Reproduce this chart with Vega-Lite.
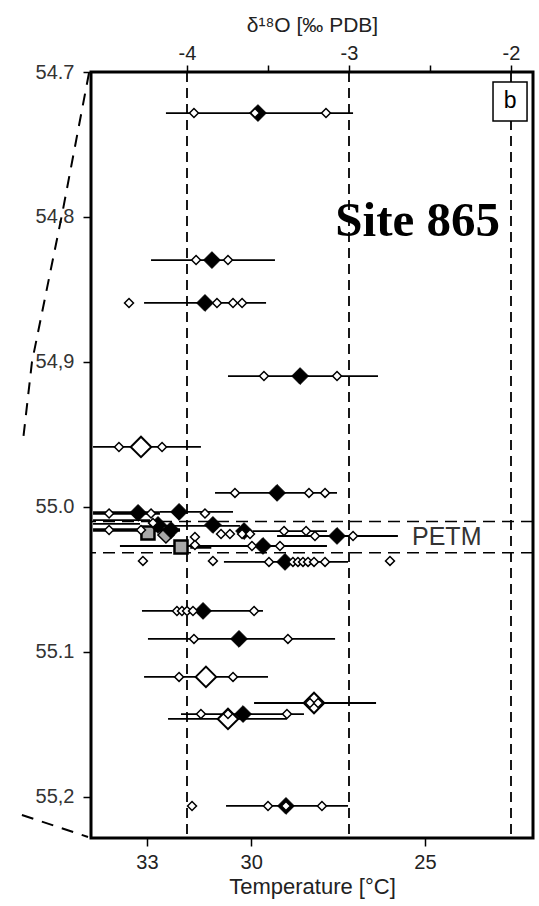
{
  "$schema": "https://vega.github.io/schema/vega-lite/v6.json",
  "width": 442,
  "height": 766,
  "autosize": {"type": "none"},
  "padding": {"left": 91, "top": 72, "right": 6, "bottom": 68},
  "background": "white",
  "config": {
    "view": {"stroke": "black", "strokeWidth": 3},
    "font": "Liberation Sans"
  },
  "datasets": {
    "bars": [
      {"depth": 54.7283, "lo": -4.130, "hi": -2.975},
      {"depth": 54.8297, "lo": -4.222, "hi": -3.457},
      {"depth": 54.8593, "lo": -4.265, "hi": -3.512},
      {"depth": 54.9097, "lo": -3.747, "hi": -2.821},
      {"depth": 54.9586, "lo": -4.58, "hi": -3.914},
      {"depth": 54.9903, "lo": -3.827, "hi": -3.074},
      {"depth": 55.0034, "lo": -4.167, "hi": -3.716},
      {"depth": 55.0090, "lo": -4.58, "hi": -4.228},
      {"depth": 55.0117, "lo": -4.58, "hi": -4.29},
      {"depth": 55.0131, "lo": -4.228, "hi": -3.673},
      {"depth": 55.0166, "lo": -3.593, "hi": -3.136},
      {"depth": 55.0200, "lo": -3.444, "hi": -2.698},
      {"depth": 55.0269, "lo": -4.414, "hi": -3.136},
      {"depth": 55.0379, "lo": -3.772, "hi": -3.006},
      {"depth": 55.0717, "lo": -4.278, "hi": -3.531},
      {"depth": 55.0910, "lo": -4.241, "hi": -3.086},
      {"depth": 55.1172, "lo": -4.265, "hi": -3.5},
      {"depth": 55.1352, "lo": -3.586, "hi": -2.833},
      {"depth": 55.1428, "lo": -4.037, "hi": -3.278},
      {"depth": 55.1462, "lo": -4.117, "hi": -3.383},
      {"depth": 55.2062, "lo": -3.759, "hi": -3.006}
    ],
    "thickbars": [
      {"depth": 55.0041, "lo": -4.58, "hi": -4.167},
      {"depth": 55.0159, "lo": -4.58, "hi": -4.043},
      {"depth": 55.0276, "lo": -3.98, "hi": -3.85}
    ],
    "pts": [
      {"depth": 54.7283, "d18O": -3.562, "kind": "m"},
      {"depth": 54.7283, "d18O": -3.957, "kind": "o"},
      {"depth": 54.7283, "d18O": -3.142, "kind": "o"},
      {"depth": 54.7283, "d18O": -3.580, "kind": "o"},
      {"depth": 54.8297, "d18O": -3.846, "kind": "m"},
      {"depth": 54.8297, "d18O": -3.944, "kind": "o"},
      {"depth": 54.8297, "d18O": -3.747, "kind": "o"},
      {"depth": 54.8593, "d18O": -3.889, "kind": "m"},
      {"depth": 54.8593, "d18O": -4.358, "kind": "o"},
      {"depth": 54.8593, "d18O": -3.815, "kind": "o"},
      {"depth": 54.8593, "d18O": -3.716, "kind": "o"},
      {"depth": 54.8593, "d18O": -3.660, "kind": "o"},
      {"depth": 54.9097, "d18O": -3.302, "kind": "m"},
      {"depth": 54.9097, "d18O": -3.525, "kind": "o"},
      {"depth": 54.9097, "d18O": -3.074, "kind": "o"},
      {"depth": 54.9586, "d18O": -4.284, "kind": "b"},
      {"depth": 54.9586, "d18O": -4.420, "kind": "o"},
      {"depth": 54.9586, "d18O": -4.154, "kind": "o"},
      {"depth": 54.9903, "d18O": -3.444, "kind": "m"},
      {"depth": 54.9903, "d18O": -3.704, "kind": "o"},
      {"depth": 54.9903, "d18O": -3.247, "kind": "o"},
      {"depth": 54.9903, "d18O": -3.148, "kind": "o"},
      {"depth": 55.0041, "d18O": -4.302, "kind": "m"},
      {"depth": 55.0045, "d18O": -4.481, "kind": "o"},
      {"depth": 55.0045, "d18O": -4.222, "kind": "o"},
      {"depth": 55.0034, "d18O": -4.049, "kind": "m"},
      {"depth": 55.0045, "d18O": -3.889, "kind": "o"},
      {"depth": 55.0110, "d18O": -4.210, "kind": "o"},
      {"depth": 55.0159, "d18O": -4.099, "kind": "m"},
      {"depth": 55.0159, "d18O": -4.481, "kind": "o"},
      {"depth": 55.0159, "d18O": -4.284, "kind": "o"},
      {"depth": 55.0179, "d18O": -4.241, "kind": "gs"},
      {"depth": 55.0124, "d18O": -3.840, "kind": "m"},
      {"depth": 55.0124, "d18O": -4.179, "kind": "m"},
      {"depth": 55.0186, "d18O": -3.790, "kind": "o"},
      {"depth": 55.0186, "d18O": -3.735, "kind": "o"},
      {"depth": 55.0186, "d18O": -3.660, "kind": "o"},
      {"depth": 55.0186, "d18O": -3.611, "kind": "o"},
      {"depth": 55.0166, "d18O": -3.648, "kind": "m"},
      {"depth": 55.0166, "d18O": -3.401, "kind": "o"},
      {"depth": 55.0166, "d18O": -3.265, "kind": "o"},
      {"depth": 55.0200, "d18O": -3.074, "kind": "m"},
      {"depth": 55.0200, "d18O": -3.210, "kind": "o"},
      {"depth": 55.0200, "d18O": -2.975, "kind": "o"},
      {"depth": 55.0269, "d18O": -3.531, "kind": "m"},
      {"depth": 55.0269, "d18O": -3.599, "kind": "o"},
      {"depth": 55.0269, "d18O": -3.426, "kind": "o"},
      {"depth": 55.0276, "d18O": -4.037, "kind": "gs"},
      {"depth": 55.0207, "d18O": -3.951, "kind": "o"},
      {"depth": 55.0262, "d18O": -3.951, "kind": "o"},
      {"depth": 55.0193, "d18O": -4.130, "kind": "gd"},
      {"depth": 55.0379, "d18O": -3.395, "kind": "m"},
      {"depth": 55.0379, "d18O": -3.494, "kind": "o"},
      {"depth": 55.0379, "d18O": -3.346, "kind": "o"},
      {"depth": 55.0379, "d18O": -3.315, "kind": "o"},
      {"depth": 55.0379, "d18O": -3.284, "kind": "o"},
      {"depth": 55.0379, "d18O": -3.253, "kind": "o"},
      {"depth": 55.0379, "d18O": -3.216, "kind": "o"},
      {"depth": 55.0379, "d18O": -3.148, "kind": "o"},
      {"depth": 55.0372, "d18O": -4.272, "kind": "o"},
      {"depth": 55.0372, "d18O": -3.840, "kind": "o"},
      {"depth": 55.0372, "d18O": -2.747, "kind": "o"},
      {"depth": 55.0717, "d18O": -3.901, "kind": "m"},
      {"depth": 55.0717, "d18O": -4.062, "kind": "o"},
      {"depth": 55.0717, "d18O": -4.031, "kind": "o"},
      {"depth": 55.0717, "d18O": -4.000, "kind": "o"},
      {"depth": 55.0717, "d18O": -3.963, "kind": "o"},
      {"depth": 55.0717, "d18O": -3.586, "kind": "o"},
      {"depth": 55.0910, "d18O": -3.679, "kind": "m"},
      {"depth": 55.0910, "d18O": -3.957, "kind": "o"},
      {"depth": 55.0910, "d18O": -3.377, "kind": "o"},
      {"depth": 55.1172, "d18O": -3.883, "kind": "b"},
      {"depth": 55.1172, "d18O": -4.049, "kind": "o"},
      {"depth": 55.1172, "d18O": -3.716, "kind": "o"},
      {"depth": 55.1352, "d18O": -3.216, "kind": "b"},
      {"depth": 55.1352, "d18O": -3.241, "kind": "o"},
      {"depth": 55.1352, "d18O": -3.191, "kind": "o"},
      {"depth": 55.1428, "d18O": -3.654, "kind": "m"},
      {"depth": 55.1428, "d18O": -3.914, "kind": "o"},
      {"depth": 55.1428, "d18O": -3.747, "kind": "o"},
      {"depth": 55.1428, "d18O": -3.383, "kind": "o"},
      {"depth": 55.1462, "d18O": -3.747, "kind": "b"},
      {"depth": 55.2062, "d18O": -3.389, "kind": "m"},
      {"depth": 55.2062, "d18O": -3.969, "kind": "o"},
      {"depth": 55.2062, "d18O": -3.500, "kind": "o"},
      {"depth": 55.2062, "d18O": -3.167, "kind": "o"},
      {"depth": 55.2062, "d18O": -3.389, "kind": "o"}
    ],
    "conn": [
      {"g": "top", "d18O": -4.605, "depth": 54.7007},
      {"g": "top", "d18O": -4.772, "depth": 54.7986},
      {"g": "top", "d18O": -4.957, "depth": 54.9000},
      {"g": "top", "d18O": -5.012, "depth": 54.9538},
      {"g": "bot", "d18O": -5.019, "depth": 55.2124},
      {"g": "bot", "d18O": -4.611, "depth": 55.2276}
    ],
    "vref": [{"d18O": -4}, {"d18O": -3}, {"d18O": -2}],
    "petm": [{"depth": 55.0101}, {"depth": 55.0315}]
  },
  "layer": [
    {
      "layer": [
        {
          "data": {"name": "vref"},
          "mark": {"type": "rule", "color": "black", "strokeWidth": 1.8, "strokeDash": [10, 6]},
          "encoding": {
            "x": {
              "field": "d18O", "type": "quantitative",
              "scale": {"domain": [-4.5926, -1.8642], "nice": false, "zero": false},
              "axis": {
                "orient": "top",
                "values": [-4, -3.5, -3, -2.5, -2],
                "labelExpr": "datum.value % 1 == 0 ? '-' + abs(datum.value) : ''",
                "title": "δ¹⁸O [‰ PDB]",
                "domain": false, "grid": false,
                "tickColor": "black", "tickWidth": 1.5, "tickSize": 7,
                "labelFontSize": 20, "labelColor": "#222", "labelPadding": 2,
                "labelFont": "Liberation Sans",
                "titleFont": "Liberation Sans", "titleFontSize": 21,
                "titleFontWeight": "normal", "titleColor": "#222", "titlePadding": 8
              }
            }
          }
        },
        {
          "data": {"name": "conn"},
          "mark": {"type": "line", "color": "black", "strokeWidth": 2, "strokeDash": [12, 9], "clip": false},
          "encoding": {
            "x": {"field": "d18O", "type": "quantitative"},
            "y": {
              "field": "depth", "type": "quantitative",
              "scale": {"domain": [54.7, 55.2283], "reverse": true, "nice": false, "zero": false},
              "axis": {
                "values": [54.7, 54.8, 54.9, 55.0, 55.1, 55.2],
                "labelExpr": "datum.value == 54.9 ? '54,9' : datum.value == 55.2 ? '55,2' : format(datum.value, '.1f')",
                "title": null, "domain": false, "grid": false,
                "tickSize": 8, "tickWidth": 1.5, "tickColor": "black",
                "labelFontSize": 20, "labelColor": "#333", "labelPadding": 9,
                "labelFont": "Liberation Sans"
              }
            },
            "detail": {"field": "g"},
            "order": {"field": "depth"}
          }
        },
        {
          "data": {"name": "petm"},
          "mark": {"type": "rule", "color": "black", "strokeWidth": 1.5, "strokeDash": [12, 7]},
          "encoding": {"y": {"field": "depth", "type": "quantitative"}}
        },
        {
          "data": {"name": "bars"},
          "mark": {"type": "rule", "color": "black", "strokeWidth": 1.8},
          "encoding": {
            "x": {"field": "lo", "type": "quantitative"},
            "x2": {"field": "hi"},
            "y": {"field": "depth", "type": "quantitative"}
          }
        },
        {
          "data": {"name": "thickbars"},
          "mark": {"type": "rule", "color": "black", "strokeWidth": 3.5},
          "encoding": {
            "x": {"field": "lo", "type": "quantitative"},
            "x2": {"field": "hi"},
            "y": {"field": "depth", "type": "quantitative"}
          }
        },
        {
          "data": {"name": "pts"},
          "transform": [{"filter": "datum.kind == 'b'"}],
          "mark": {"type": "point", "shape": "diamond", "size": 420, "filled": true, "fill": "white", "stroke": "black", "strokeWidth": 2, "opacity": 1},
          "encoding": {
            "x": {"field": "d18O", "type": "quantitative"},
            "y": {"field": "depth", "type": "quantitative"}
          }
        },
        {
          "data": {"name": "pts"},
          "transform": [{"filter": "datum.kind == 'gs'"}],
          "mark": {"type": "point", "shape": "square", "size": 170, "filled": true, "fill": "#a8a8a8", "stroke": "black", "strokeWidth": 2.5, "opacity": 1},
          "encoding": {
            "x": {"field": "d18O", "type": "quantitative"},
            "y": {"field": "depth", "type": "quantitative"}
          }
        },
        {
          "data": {"name": "pts"},
          "transform": [{"filter": "datum.kind == 'gd'"}],
          "mark": {"type": "point", "shape": "diamond", "size": 260, "filled": true, "fill": "#a8a8a8", "stroke": "black", "strokeWidth": 1.5, "opacity": 1},
          "encoding": {
            "x": {"field": "d18O", "type": "quantitative"},
            "y": {"field": "depth", "type": "quantitative"}
          }
        },
        {
          "data": {"name": "pts"},
          "transform": [{"filter": "datum.kind == 'm'"}],
          "mark": {"type": "point", "shape": "diamond", "size": 280, "filled": true, "fill": "black", "stroke": "black", "strokeWidth": 1, "opacity": 1},
          "encoding": {
            "x": {"field": "d18O", "type": "quantitative"},
            "y": {"field": "depth", "type": "quantitative"}
          }
        },
        {
          "data": {"name": "pts"},
          "transform": [{"filter": "datum.kind == 'o'"}],
          "mark": {"type": "point", "shape": "diamond", "size": 80, "filled": true, "fill": "white", "stroke": "black", "strokeWidth": 1.5, "opacity": 1},
          "encoding": {
            "x": {"field": "d18O", "type": "quantitative"},
            "y": {"field": "depth", "type": "quantitative"}
          }
        },
        {
          "data": {"values": [{}]},
          "mark": {"type": "rect", "fill": "white", "stroke": "black", "strokeWidth": 1.5},
          "encoding": {
            "x": {"datum": -2.111, "type": "quantitative"},
            "x2": {"datum": -1.901},
            "y": {"datum": 54.7069, "type": "quantitative"},
            "y2": {"datum": 54.7338}
          }
        },
        {
          "data": {"values": [{}]},
          "mark": {"type": "text", "text": "b", "font": "Liberation Sans", "fontSize": 23, "align": "center", "baseline": "middle", "color": "black"},
          "encoding": {
            "x": {"datum": -2.006, "type": "quantitative"},
            "y": {"datum": 54.7203, "type": "quantitative"}
          }
        },
        {
          "data": {"values": [{}]},
          "mark": {"type": "text", "text": "Site 865", "font": "Liberation Serif", "fontWeight": "bold", "fontSize": 49, "align": "right", "baseline": "alphabetic", "color": "black"},
          "encoding": {
            "x": {"datum": -2.068, "type": "quantitative"},
            "y": {"datum": 54.8131, "type": "quantitative"}
          }
        },
        {
          "data": {"values": [{}]},
          "mark": {"type": "text", "text": "PETM", "font": "Liberation Sans", "fontSize": 25, "align": "left", "baseline": "alphabetic", "color": "#333"},
          "encoding": {
            "x": {"datum": -2.611, "type": "quantitative"},
            "y": {"datum": 55.0262, "type": "quantitative"}
          }
        }
      ]
    },
    {
      "data": {"values": [{"T": 30}]},
      "mark": {"type": "point", "opacity": 0},
      "encoding": {
        "x": {
          "field": "T", "type": "quantitative",
          "scale": {"domain": [21.89, 34.61], "reverse": true, "nice": false, "zero": false},
          "axis": {
            "orient": "bottom",
            "values": [33, 30, 25],
            "format": "d",
            "title": "Temperature [°C]",
            "domain": false, "grid": false,
            "tickColor": "black", "tickWidth": 1.5, "tickSize": 8,
            "labelFontSize": 20, "labelColor": "#222", "labelPadding": 6,
            "labelFont": "Liberation Sans",
            "titleFont": "Liberation Sans", "titleFontSize": 22,
            "titleFontWeight": "normal", "titleColor": "#222", "titlePadding": 4
          }
        }
      }
    }
  ],
  "resolve": {"scale": {"x": "independent"}, "axis": {"x": "independent"}}
}
